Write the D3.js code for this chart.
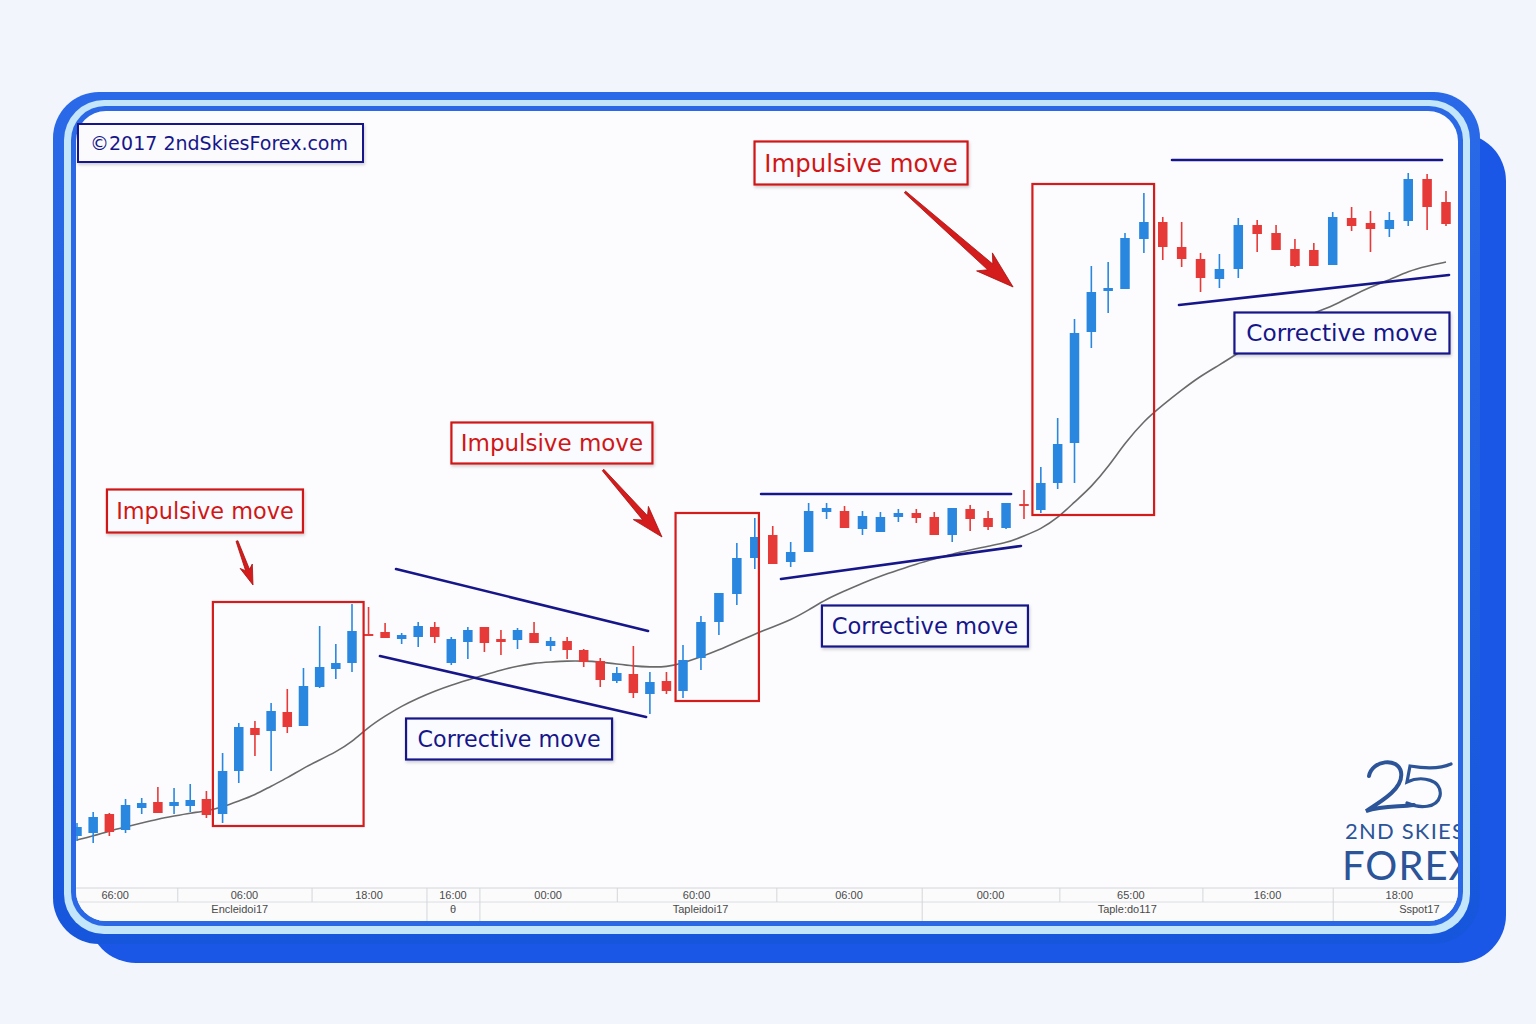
<!DOCTYPE html>
<html><head><meta charset="utf-8">
<script src="https://cdn.jsdelivr.net/npm/d3@7/dist/d3.min.js"></script>
<style>html,body{margin:0;padding:0;background:#f2f5fb}svg{display:block}</style>
</head><body>
<svg id="chart" width="1536" height="1024"></svg>
<script>
// ---------- DATA (price in pips above base) ----------
const opens  = [44,47,66,50,72,78,74,74,81,66,109,152,149,168,154,193,211,217,246,248,241,243,253,217,238,253,241,240,247,234,239,230,219,199,206,186,199,189,222,258,286,322,345,318,328,368,369,351,348,363,367,363,345,371,362,352,376,370,397,437,548,589,591,641,658,633,621,601,611,655,647,631,630,615,662,657,651,659,701,678];
const highs  = [57,68,67,81,82,93,92,96,89,127,157,159,177,191,212,254,236,276,273,257,247,258,258,243,253,253,250,252,258,243,243,231,222,213,234,208,208,235,264,287,337,362,354,338,377,377,374,369,368,371,371,368,372,375,369,377,390,413,462,561,614,618,647,687,663,658,627,626,662,660,655,641,637,668,673,669,668,707,706,689];
const lows   = [39,37,44,47,66,67,66,68,62,57,97,124,109,147,154,192,201,208,244,242,236,233,237,215,221,228,225,231,237,229,221,213,193,197,182,166,186,182,210,245,275,311,316,313,328,361,352,345,348,358,357,345,338,349,350,351,361,367,391,397,532,567,591,627,620,613,588,592,602,628,630,613,614,615,649,628,643,654,650,654];
const closes = [53,63,48,75,77,67,78,80,65,109,153,145,169,153,194,213,217,249,244,242,245,254,243,241,250,237,238,250,237,239,230,218,200,207,187,198,189,220,258,287,322,343,316,328,369,372,352,364,363,367,362,345,372,361,353,377,375,397,436,547,588,592,642,658,633,621,602,611,655,646,630,614,614,663,654,651,660,701,673,656];
const maValues = [40,44,49,53,57,61,64,67,69,73,79,85,94,102,112,120,128,138,153,164,174,182,189,195,200,205,210,214,217,218,219,219,218,216,214,213,213,217,223,230,238,246,253,260,270,281,289,297,304,310,316,321,326,330,334,337,344,351,362,378,393,413,437,459,475,490,504,515,527,539,550,559,567,574,584,593,600,609,614,618];

// time axis (positions are bar indices)
const topTickBreaks  = [6.2,14.5,21.5,24.7,33.0,42.2,50.3,58.1,66.1,73.0];
const topTickLabels  = ["66:00","06:00","18:00","16:00","00:00","60:00","06:00","00:00","65:00","16:00","18:00"];
const dateBreaks     = [21.5,24.7,50.3,73.0];
const dateLabels     = ["Encleidoi17","θ","Tapleidoi17","Taple:do117","Sspot17"];

// annotations in data coordinates (bar index, price)
const impulseBoxes = [[8.4,17.7,54,278],[36.55,41.23,179,367],[56.5,63.54,365,696]];
const impulseLabels = [[7.91,369],[29.08,437],[46.92,717]];
const impulseArrows = [[9.89,339,10.88,295],[32.17,410,35.73,343],[49.37,688,55.39,593]];
const correctiveLines = [[19.66,311,34.89,249],[18.69,224,34.77,163],[41.35,386,55.28,386],[42.46,301,55.83,334],[64.49,720,78.79,720],[64.86,575,79.16,605]];
const correctiveLabels = [[26.49,141],[50.48,254],[73.49,547]];

// ---------- LAYOUT ----------
const svg = d3.select("#chart");
const W = 1536, H = 1024;
const inner = {x0:76, y0:111, x1:1458, y1:921};
const x = d3.scaleLinear().domain([0,17,37,56,62,79]).range([77,352,683,1024,1125,1446]);
const y = d3.scaleLinear().domain([0,780]).range([880,100]);

const defs = svg.append("defs");
defs.append("clipPath").attr("id","innerClip").append("rect")
  .attr("x",inner.x0).attr("y",inner.y0).attr("width",inner.x1-inner.x0).attr("height",inner.y1-inner.y0).attr("rx",30);
const f = defs.append("filter").attr("id","ds").attr("x","-10%").attr("y","-20%").attr("width","130%").attr("height","160%");
f.append("feDropShadow").attr("dx",1).attr("dy",2).attr("stdDeviation",1.5).attr("flood-color","#000").attr("flood-opacity",0.18);
const g1 = defs.append("linearGradient").attr("id","frameGrad").attr("x1",0).attr("y1",0).attr("x2",0).attr("y2",1);
g1.append("stop").attr("offset","0").attr("stop-color","#2a6ae8");
g1.append("stop").attr("offset","1").attr("stop-color","#1656dc");

svg.append("rect").attr("width",W).attr("height",H).attr("fill","#f2f5fb");
// frame
svg.append("rect").attr("x",88).attr("y",133).attr("width",1418).attr("height",830).attr("rx",48).attr("fill","#1a57e6");
svg.append("rect").attr("x",53).attr("y",92).attr("width",1427).attr("height",852).attr("rx",46).attr("fill","url(#frameGrad)");
svg.append("rect").attr("x",64).attr("y",100).attr("width",1406).attr("height",834).attr("rx",40).attr("fill","#c3e6fb");
svg.append("rect").attr("x",71).attr("y",106).attr("width",1392).attr("height",820).attr("rx",34).attr("fill","#2a68e6");
svg.append("rect").attr("x",inner.x0).attr("y",inner.y0).attr("width",inner.x1-inner.x0).attr("height",inner.y1-inner.y0).attr("rx",30).attr("fill","#fcfcfe");

const plot = svg.append("g").attr("clip-path","url(#innerClip)");

// ---------- time axis ----------
const axTop = 888, axMid = 902;
const axG = plot.append("g");
axG.append("rect").attr("x",inner.x0).attr("y",axTop).attr("width",inner.x1-inner.x0).attr("height",inner.y1-axTop).attr("fill","#fbfbfc");
axG.append("line").attr("x1",inner.x0).attr("x2",inner.x1).attr("y1",axTop).attr("y2",axTop).attr("stroke","#d4d6da").attr("stroke-width",1.2);
axG.append("line").attr("x1",inner.x0).attr("x2",inner.x1).attr("y1",axMid).attr("y2",axMid).attr("stroke","#dcdee2").attr("stroke-width",1);
const axisTopRow = d3.axisBottom(x).tickValues(topTickBreaks).tickSize(axMid-axTop).tickFormat("");
axG.append("g").attr("transform",`translate(0,${axTop})`).call(axisTopRow)
  .call(g=>g.select(".domain").remove())
  .call(g=>g.selectAll(".tick line").attr("stroke","#d4d6da"));
const axisDateRow = d3.axisBottom(x).tickValues(dateBreaks).tickSize(inner.y1-axMid).tickFormat("");
axG.append("g").attr("transform",`translate(0,${axMid})`).call(axisDateRow)
  .call(g=>g.select(".domain").remove())
  .call(g=>g.selectAll(".tick line").attr("stroke","#d4d6da"));
const topEdges = [53, ...topTickBreaks.map(x), inner.x1+8];
axG.selectAll("text.tl").data(topTickLabels).join("text").attr("class","tl")
  .attr("x",(d,i)=>(topEdges[i]+topEdges[i+1])/2).attr("y",899)
  .attr("text-anchor","middle").attr("font-family","Liberation Sans, Arial, sans-serif").attr("font-size",11).attr("fill","#4a4a4a").text(d=>d);
const dateEdges = [53, ...dateBreaks.map(x), 1518];
axG.selectAll("text.dl").data(dateLabels).join("text").attr("class","dl")
  .attr("x",(d,i)=>(dateEdges[i]+dateEdges[i+1])/2 - (i===dateLabels.length-1?6:0)).attr("y",913)
  .attr("text-anchor","middle").attr("font-family","Liberation Sans, Arial, sans-serif").attr("font-size",11).attr("fill","#4a4a4a").text(d=>d);

// ---------- moving average ----------
plot.append("path").datum(maValues)
  .attr("d", d3.line().x((d,i)=>x(i)).y(d=>y(d)).curve(d3.curveBasis))
  .attr("fill","none").attr("stroke","#6a6a6a").attr("stroke-width",1.6);

// ---------- candles ----------
const BLUE = "#2a87df", RED = "#e53a38";
const candles = opens.map((o,i)=>({i,o,h:highs[i],l:lows[i],c:closes[i]}));
const bw = 9.5;
const cg = plot.append("g");
cg.selectAll("line.w").data(candles).join("line").attr("class","w")
  .attr("x1",d=>x(d.i)).attr("x2",d=>x(d.i)).attr("y1",d=>y(d.h)).attr("y2",d=>y(d.l))
  .attr("stroke",d=>d.c>=d.o?BLUE:RED).attr("stroke-width",1.6);
cg.selectAll("rect.b").data(candles).join("rect").attr("class","b")
  .attr("x",d=>x(d.i)-bw/2).attr("width",bw)
  .attr("y",d=>y(Math.max(d.o,d.c))).attr("height",d=>Math.max(2,Math.abs(y(d.o)-y(d.c))))
  .attr("fill",d=>d.c>=d.o?BLUE:RED);

// ---------- annotations ----------
const NAVY = "#16168a", ARED = "#d41c1c";
const ann = plot.append("g");
ann.selectAll("line.tr").data(correctiveLines).join("line").attr("class","tr")
  .attr("x1",d=>x(d[0])).attr("y1",d=>y(d[1])).attr("x2",d=>x(d[2])).attr("y2",d=>y(d[3]))
  .attr("stroke",NAVY).attr("stroke-width",2.6).attr("stroke-linecap","round");
ann.selectAll("rect.ib").data(impulseBoxes).join("rect").attr("class","ib")
  .attr("x",d=>x(d[0])).attr("width",d=>x(d[1])-x(d[0]))
  .attr("y",d=>y(d[3])).attr("height",d=>y(d[2])-y(d[3]))
  .attr("fill","none").attr("stroke",ARED).attr("stroke-width",2.2);

// arrows
function arrowPath(x1,y1,x2,y2,hl,hw){
  const dx=x2-x1, dy=y2-y1, L=Math.hypot(dx,dy), ux=dx/L, uy=dy/L, nx=-uy, ny=ux;
  const bx=x2-ux*hl, by=y2-uy*hl;
  const nb=x2-ux*hl*0.8, nby=y2-uy*hl*0.8;
  const s0=1.0, s1=hw*0.16;
  const p=[[x1+nx*s0,y1+ny*s0],[nb+nx*s1,nby+ny*s1],[bx+nx*hw/2,by+ny*hw/2],[x2,y2],[bx-nx*hw/2,by-ny*hw/2],[nb-nx*s1,nby-ny*s1],[x1-nx*s0,y1-ny*s0]];
  return "M"+p.map(q=>q[0].toFixed(1)+","+q[1].toFixed(1)).join("L")+"Z";
}
const arrowSizes = [[20,13],[32,20],[38,24]];
ann.selectAll("path.ar").data(impulseArrows).join("path").attr("class","ar")
  .attr("d",(d,i)=>arrowPath(x(d[0]),y(d[1]),x(d[2]),y(d[3]),arrowSizes[i][0],arrowSizes[i][1]))
  .attr("fill",ARED).attr("stroke","#a80f0f").attr("stroke-width",0.8).attr("stroke-linejoin","round");

// labels
function label(g, cx, cy, text, size, color, w, h){
  const gg = g.append("g");
  gg.append("rect").attr("x",cx-w/2).attr("y",cy-h/2).attr("width",w).attr("height",h)
    .attr("fill","#fafbfe").attr("stroke",color).attr("stroke-width",2.2).attr("filter","url(#ds)");
  gg.append("text").attr("x",cx).attr("y",cy).attr("dy","0.36em").attr("text-anchor","middle")
    .attr("font-family","DejaVu Sans, Verdana, sans-serif").attr("font-size",size).attr("fill",color).text(text);
}
const impSizes = [[22.4,196,43],[23,201,41],[24.4,213,43]];
impulseLabels.forEach((d,i)=>label(ann, x(d[0]), y(d[1]), "Impulsive move", impSizes[i][0], "#d01616", impSizes[i][1], impSizes[i][2]));
const corSizes = [[22.2,206,41],[22.6,206,41],[23.2,215,41]];
correctiveLabels.forEach((d,i)=>label(ann, x(d[0]), y(d[1]), "Corrective move", corSizes[i][0], NAVY, corSizes[i][1], corSizes[i][2]));

// copyright
const cp = svg.append("g");
cp.append("rect").attr("x",78).attr("y",124).attr("width",285).attr("height",38).attr("fill","#fbfbfe").attr("stroke",NAVY).attr("stroke-width",2).attr("filter","url(#ds)");
cp.append("text").attr("x",90).attr("y",143).attr("dy","0.36em").attr("font-family","DejaVu Sans, Verdana, sans-serif").attr("font-size",19).attr("fill",NAVY).text("©2017 2ndSkiesForex.com");

// logo
const LOGO = "#2c5499";
const lg = plot.append("g");
lg.append("path").attr("d","M1369,776 C1372,760 1398,757 1401,772 C1404,788 1382,801 1366,811 C1382,806 1398,807 1414,805")
  .attr("fill","none").attr("stroke",LOGO).attr("stroke-width",4).attr("stroke-linecap","round");
lg.append("path").attr("d","M1451,764 C1440,769 1422,768 1410,766 L1407,782 C1422,775 1443,780 1440,796 C1437,808 1420,809 1407,803")
  .attr("fill","none").attr("stroke",LOGO).attr("stroke-width",3.2).attr("stroke-linecap","round");
lg.append("text").attr("x",1345).attr("y",839).attr("font-family","Lato, Open Sans, sans-serif").attr("font-size",22).attr("letter-spacing",1.2).attr("fill",LOGO).text("2ND SKIES");
lg.append("text").attr("x",1342).attr("y",880).attr("font-family","Lato, Open Sans, sans-serif").attr("font-size",40).attr("letter-spacing",1).attr("fill",LOGO).text("FOREX");
</script>
</body></html>
